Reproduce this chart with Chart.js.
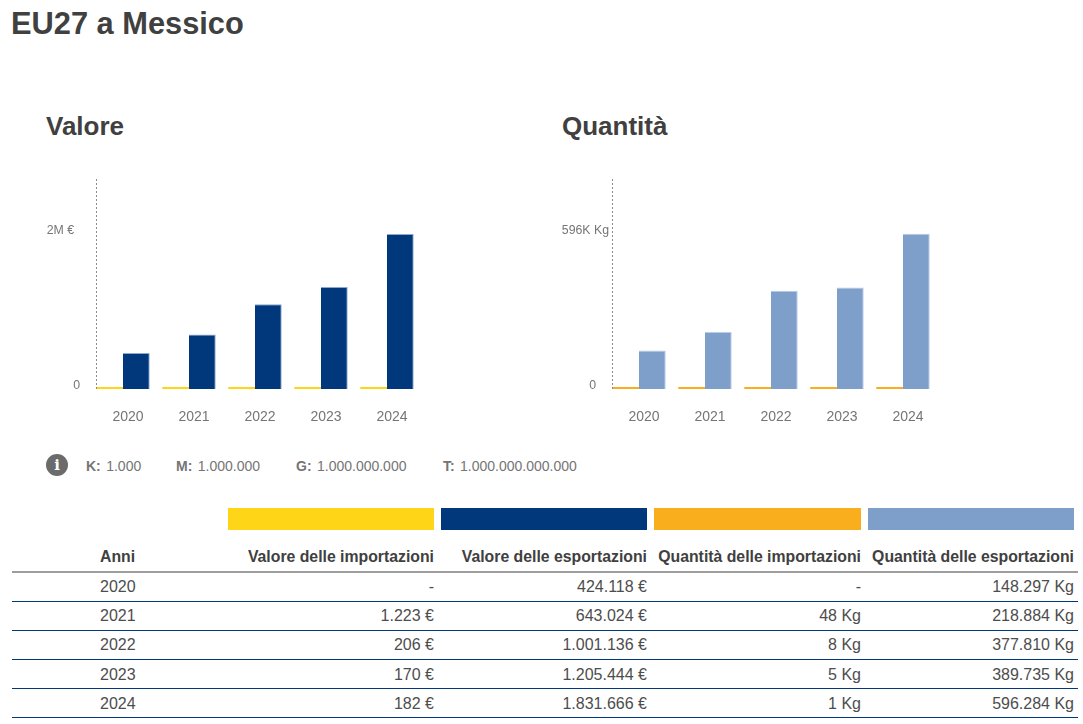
<!DOCTYPE html>
<html lang="it">
<head>
<meta charset="utf-8">
<title>EU27 a Messico</title>
<script src="https://cdn.jsdelivr.net/npm/chart.js@4"></script>
<style>
    html, body { margin: 0; padding: 0; background: #fff; }
    body { width: 1083px; height: 724px; position: relative; overflow: hidden; font-family: "Liberation Sans", Arial, sans-serif; color: #404040; }
    h1, h2 { position: absolute; margin: 0; font-weight: bold; color: #404040; line-height: 1; white-space: nowrap; }
    h1 { left: 11px; top: 9px; font-size: 30.8px; }
    h2 { top: 113px; font-size: 26px; }
    .chart-box { position: absolute; top: 170px; width: 500px; height: 260px; }
    .info { position: absolute; left: 46px; top: 454px; width: 22px; height: 22px; border-radius: 50%; background: #6b6b6b; color: #fff; font: bold 15px/22px "DejaVu Serif", serif; text-align: center; }
    .unit { position: absolute; top: 458px; font-size: 14px; line-height: 16px; color: #757575; white-space: nowrap; }
    .unit b { margin-right: 1.5px; }
    .swatch { position: absolute; top: 508px; height: 22px; }
    table { position: absolute; left: 12px; top: 543px; width: 1066px; border-collapse: collapse; table-layout: fixed; font-size: 16px; }
    th, td { padding: 0 4px 0 0; text-align: right; white-space: nowrap; }
    th { height: 28px; border-bottom: 2px solid #9e9e9e; font-size: 15.8px; font-weight: bold; color: #404040; }
    td { height: 28px; border-bottom: 1px solid #00387b; color: #4d4d4d; }
    tbody tr:nth-child(n+4) td { height: 26px; padding-top: 2px; }
    th:first-child, td:first-child { text-align: left; padding-left: 88px; }
</style>
</head>
<body>
<h1>EU27 a Messico</h1>
<h2 style="left:46px">Valore</h2>
<h2 style="left:562px">Quantità</h2>

<div class="chart-box" style="left:0"><canvas id="valueChart" width="500" height="260"></canvas></div>
<div class="chart-box" style="left:516px"><canvas id="quantityChart" width="500" height="260"></canvas></div>

<div class="info">i</div>
<div class="unit" style="left:86px"><b>K:</b> 1.000</div>
<div class="unit" style="left:176px"><b>M:</b> 1.000.000</div>
<div class="unit" style="left:296px"><b>G:</b> 1.000.000.000</div>
<div class="unit" style="left:443px"><b>T:</b> 1.000.000.000.000</div>

<div class="swatch" style="left:228px;width:206px;background:#ffd617"></div>
<div class="swatch" style="left:441px;width:206px;background:#00387b"></div>
<div class="swatch" style="left:654px;width:207px;background:#f9ae1e"></div>
<div class="swatch" style="left:868px;width:206px;background:#7f9fcb"></div>

<table>
    <colgroup><col style="width:212px"><col style="width:214px"><col style="width:213px"><col style="width:214px"><col style="width:213px"></colgroup>
    <thead><tr id="headRow"></tr></thead>
    <tbody id="tableBody"></tbody>
</table>

<script>
// Data
const years = ['2020', '2021', '2022', '2023', '2024'];
const headers = ['Anni', 'Valore delle importazioni', 'Valore delle esportazioni', 'Quantità delle importazioni', 'Quantità delle esportazioni'];
const importValue = [0, 1223, 206, 170, 182];
const exportValue = [424118, 643024, 1001136, 1205444, 1831666];
const importQuantity = [0, 48, 8, 5, 1];
const exportQuantity = [148297, 218884, 377810, 389735, 596284];
const valueTicks = [0, 1831666];
const quantityTicks = [0, 596284];
const valueTickLabels = ['0', '2M €'];
const quantityTickLabels = ['0', '596K Kg'];

// Colours
const YELLOW = '#ffd617';
const ORANGE = '#f9ae1e';
const NAVY = '#00387b';
const LIGHT_BLUE = '#7f9fcb';
const TEXT_GREY = '#757575';

// Draws the dotted axis line and the y labels, which do not share a right edge
const axisPlugin = {
    id: 'axisPlugin',
    afterDraw(chart, args, opts) {
        const ctx = chart.ctx;
        const yScale = chart.scales.y;
        const x = chart.chartArea.left + 6.5;
        ctx.save();
        ctx.strokeStyle = '#8c8c8c';
        ctx.lineWidth = 1;
        ctx.setLineDash([2, 2]);
        ctx.beginPath();
        ctx.moveTo(x, yScale.top);
        ctx.lineTo(x, yScale.bottom);
        ctx.stroke();
        ctx.setLineDash([]);
        ctx.fillStyle = TEXT_GREY;
        ctx.font = '12.3px "Liberation Sans"';
        ctx.textAlign = 'right';
        ctx.textBaseline = 'middle';
        opts.ticks.forEach((tick, i) => {
            ctx.fillText(opts.labels[i], opts.right[i], yScale.getPixelForValue(tick) - 3.5);
        });
        ctx.restore();
    }
};

function createChart(id, data1, data2, color1, color2, border2, yMax, ticks, labels, right) {
    return new Chart(document.getElementById(id), {
        type: 'bar',
        data: {
            labels: years,
            datasets: [
                { data: data1, backgroundColor: color1, minBarLength: 2, categoryPercentage: 0.81, barPercentage: 1 },
                { data: data2, backgroundColor: color2, borderColor: border2, borderWidth: { top: 1, right: 1 }, categoryPercentage: 0.81, barPercentage: 1 }
            ]
        },
        options: {
            responsive: false,
            animation: false,
            layout: { padding: { left: 90, right: 80, top: 9, bottom: 0 } },
            plugins: { legend: { display: false }, tooltip: { enabled: false }, axisPlugin: { ticks, labels, right } },
            scales: {
                x: {
                    grid: { display: false },
                    border: { display: false },
                    ticks: { color: TEXT_GREY, font: { family: 'Liberation Sans', size: 14 }, padding: 12, labelOffset: 5, maxRotation: 0 },
                    afterFit(scale) { scale.height = 41; }
                },
                y: {
                    display: true,
                    min: 0,
                    max: yMax,
                    grid: { display: false },
                    border: { display: false },
                    ticks: { display: false },
                    afterFit(scale) { scale.width = 0; }
                }
            }
        },
        plugins: [axisPlugin]
    });
}

// Table
function formatNumber(n) {
    return n.toString().replace(/\B(?=(\d{3})+$)/g, '.');
}

function cell(n, unit) {
    return n === 0 ? '-' : formatNumber(n) + ' ' + unit;
}

document.getElementById('headRow').innerHTML = headers.map(h => `<th>${h}</th>`).join('');
document.getElementById('tableBody').innerHTML = years.map((y, i) => `<tr>
    <td>${y}</td>
    <td>${cell(importValue[i], '€')}</td>
    <td>${cell(exportValue[i], '€')}</td>
    <td>${cell(importQuantity[i], 'Kg')}</td>
    <td>${cell(exportQuantity[i], 'Kg')}</td>
</tr>`).join('');

createChart('valueChart', importValue, exportValue, YELLOW, NAVY, 'rgba(127,159,203,0.9)', 2480000, valueTicks, valueTickLabels, [80, 74]);
createChart('quantityChart', importQuantity, exportQuantity, ORANGE, LIGHT_BLUE, '#b8cce6', 807000, quantityTicks, quantityTickLabels, [80, 93]);
</script>
</body>
</html>
